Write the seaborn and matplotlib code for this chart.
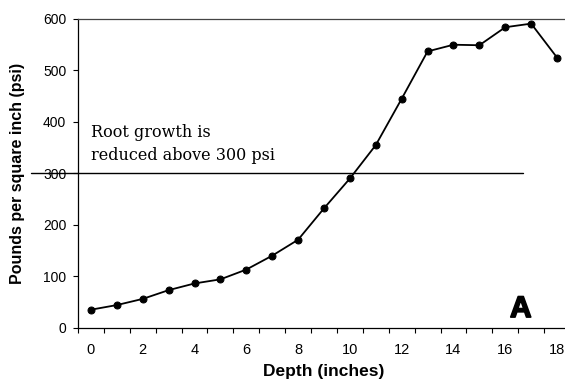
import numpy as np
import pandas as pd
import matplotlib
matplotlib.use('Agg')
import matplotlib.pyplot as plt
import matplotlib.patheffects as pe
import seaborn as sns
from matplotlib.ticker import MultipleLocator

# Soil strength by depth
depth = list(range(19))
psi = [35, 44, 56, 73, 86, 94, 113, 140, 171, 232, 290, 355, 445, 537, 550, 549, 584, 591, 525]
x_tick_labels = [str(v) for v in range(0, 19, 2)]
threshold = 300

df = pd.DataFrame({'Depth': depth, 'psi': psi})

sns.set_style('white')
plt.rcParams['font.family'] = ['Liberation Sans', 'DejaVu Sans']
plt.rcParams['text.color'] = 'black'
plt.rcParams['axes.labelcolor'] = 'black'
plt.rcParams['xtick.color'] = 'black'
plt.rcParams['ytick.color'] = 'black'

fig = plt.figure(figsize=(5.65, 3.88), dpi=100)
ax = fig.add_axes([78 / 565, 60.3 / 388, 492 / 565, 308.7 / 388])

sns.lineplot(data=df, x='Depth', y='psi', ax=ax, color='black',
             marker='o', markersize=5, markeredgecolor='black',
             linewidth=1.3)

# threshold line, runs through the tick label on the left
ax.plot([-2.3, 16.7], [threshold, threshold], color='black', lw=1.0,
        clip_on=False, zorder=1)
ax.text(0.0, 396, 'Root growth is\nreduced above 300 psi', family='DejaVu Serif',
        fontsize=11.5, va='top', ha='left', linespacing=1.45)
ax.text(16.6, 9, 'A', fontsize=21.5, fontweight='bold', ha='center', va='bottom',
        path_effects=[pe.withStroke(linewidth=1.2, foreground='black')])

ax.set_xlim(-0.5, 18.5)
ax.set_ylim(0, 600)
ax.set_xticks(range(0, 19, 2))
ax.set_xticklabels(x_tick_labels)
ax.xaxis.set_minor_locator(MultipleLocator(1, offset=0.5))
ax.set_yticks(range(0, 601, 100))
ax.tick_params(axis='x', which='major', length=0, labelsize=10.5, pad=11)
ax.tick_params(axis='x', which='minor', length=3.5, width=0.8, direction='out', bottom=True)
ax.tick_params(axis='y', length=3.5, width=0.8, direction='out', left=True, labelsize=10, pad=5)

for side in ['left', 'bottom']:
    ax.spines[side].set_color('black')
    ax.spines[side].set_linewidth(0.9)
ax.spines['top'].set_color('#444444')
ax.spines['top'].set_linewidth(0.9)
ax.spines['right'].set_visible(False)

ax.set_xlabel('Depth (inches)', fontsize=12.5, fontweight='bold', labelpad=5)
ax.set_ylabel('Pounds per square inch (psi)', fontsize=11.5, fontweight='bold', labelpad=13)

fig.savefig('out.png', dpi=100)
